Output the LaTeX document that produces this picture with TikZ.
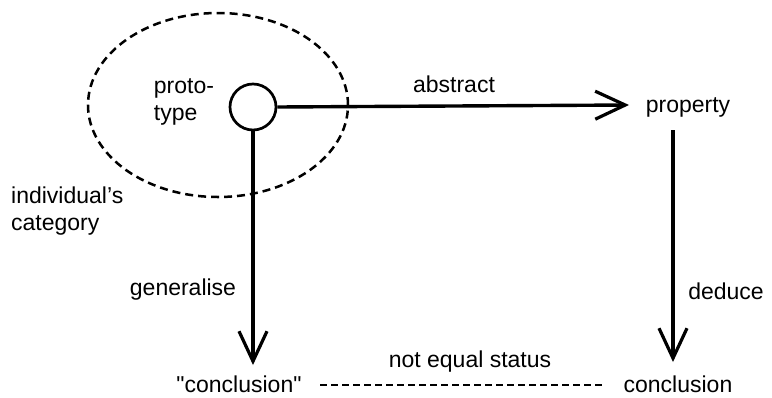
\documentclass[tikz,border=0pt]{standalone}
\usepackage{fontspec}
\setmainfont{Liberation Sans}[Ligatures=TeXOff]
\usetikzlibrary{arrows.meta,shapes.geometric}
\begin{document}
\begin{tikzpicture}[x=1pt,y=-1pt,
  lbl/.style={font=\fontsize{23}{27}\selectfont, inner sep=0pt},
  conn/.style={line width=3.4pt},
  vee/.style={-{Straight Barb[length=30pt,width=28pt,line width=3.2pt]}},
  dashline/.style={line width=1.8pt, dash pattern=on 7pt off 4pt}]
\useasboundingbox (0,0) rectangle (772,397);
% category ellipse
\node[draw, line width=2.5pt, dash pattern=on 8pt off 5pt, ellipse, minimum width=260pt, minimum height=184pt, inner sep=0pt] (cat) at (218,105) {};
\node[draw, circle, line width=2.7pt, minimum size=46pt, inner sep=0pt] (proto) at (253,107) {};
\node[lbl, align=left] (protolbl) at (184,102) {proto-\\type};
\node[lbl] (prop) at (688,107) {property};
\node[lbl] (concl) at (239,384) {"conclusion"};
\node[lbl] (concr) at (678,384) {conclusion};
\node[lbl] (abs) at (454,84) {abstract};
\node[lbl] (gen) at (183,290) {generalise};
\node[lbl] (ded) at (726,291) {deduce};
\node[lbl] (neq) at (470,362) {not equal status};
\node[lbl, align=left, anchor=west] (indiv) at (11,211) {individual’s\\category};
\coordinate (tipH) at (629,105);
\coordinate (tipL) at (253,365);
\coordinate (tipR) at (673,362);
\coordinate (topR) at (673,130);
\coordinate (dashA) at (320,385);
\coordinate (dashB) at (603,385);
\draw[conn, vee] (proto.east) -- (tipH);
\draw[conn, vee] (proto.south) -- (tipL);
\draw[conn, vee] (topR) -- (tipR);
\draw[dashline] (dashA) -- (dashB);
\end{tikzpicture}
\end{document}
